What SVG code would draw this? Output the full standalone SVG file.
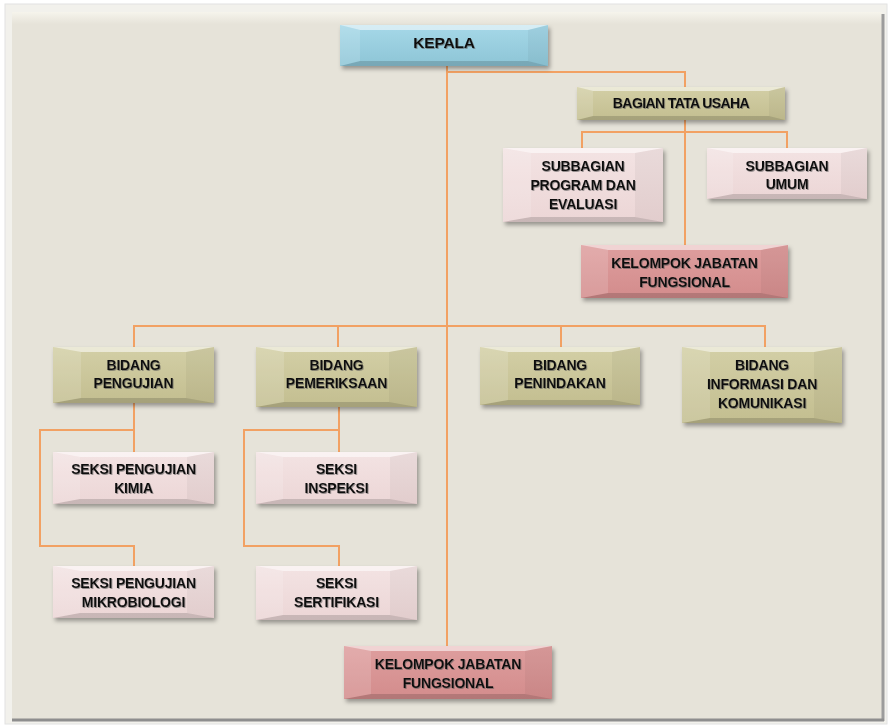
<svg xmlns="http://www.w3.org/2000/svg" width="890" height="725" viewBox="0 0 890 725">
<defs>
<filter id="sh" x="-10%" y="-20%" width="125%" height="150%"><feDropShadow dx="2" dy="3" stdDeviation="2" flood-color="#000" flood-opacity="0.35"/></filter>
<filter id="tsh" x="-5%" y="-20%" width="110%" height="150%"><feDropShadow dx="0.8" dy="1" stdDeviation="0.6" flood-color="#555" flood-opacity="0.6"/></filter>
<linearGradient id="panelTop" x1="0" y1="0" x2="0" y2="1"><stop offset="0" stop-color="#f6f4ec"/><stop offset="1" stop-color="#e6e3d9"/></linearGradient>
<linearGradient id="gBlue" x1="0" y1="0" x2="0" y2="1"><stop offset="0" stop-color="#a6d8e8"/><stop offset="1" stop-color="#8dc5d6"/></linearGradient>
<linearGradient id="gKhaki" x1="0" y1="0" x2="0" y2="1"><stop offset="0" stop-color="#d3cfa6"/><stop offset="1" stop-color="#c3be90"/></linearGradient>
<linearGradient id="gPink" x1="0" y1="0" x2="0" y2="1"><stop offset="0" stop-color="#f3e3e3"/><stop offset="1" stop-color="#ecd6d6"/></linearGradient>
<linearGradient id="gRed" x1="0" y1="0" x2="0" y2="1"><stop offset="0" stop-color="#de9e9e"/><stop offset="1" stop-color="#d38c8c"/></linearGradient>
</defs>
<style>
.blue{fill:url(#gBlue)}
.khaki{fill:url(#gKhaki)}
.pink{fill:url(#gPink)}
.red{fill:url(#gRed)}
.base{filter:url(#sh)}
.ft{fill:#ffffff;fill-opacity:0.55}
.fl{fill:#ffffff;fill-opacity:0.14}
.fr{fill:#000000;fill-opacity:0.04}
.fb{fill:#000000;fill-opacity:0.15}
text{font-family:"Liberation Sans",Arial,sans-serif;font-weight:bold;font-size:14px;fill:#111;text-anchor:middle;filter:url(#tsh);letter-spacing:-0.2px}
.con{fill:none;stroke:#f2a163;stroke-width:2}
</style>
<rect x="0" y="0" width="890" height="725" fill="#ffffff"/>
<rect x="5" y="4" width="882" height="720" fill="#f2f1ec" stroke="#e2e2e2"/>
<rect x="12" y="12" width="870" height="707" fill="#e6e3d9"/>
<rect x="12" y="12" width="870" height="12" fill="url(#panelTop)"/>
<line x1="883" y1="14" x2="883" y2="721" stroke="#9c9c9c" stroke-width="3"/>
<line x1="12" y1="720" x2="884" y2="720" stroke="#8e8e8e" stroke-width="3"/>

<g id="connectors">
<path class="con" d="M447,65 V646"/>
<path class="con" d="M447,72 H685 V87"/>
<path class="con" d="M685,119 V245"/>
<path class="con" d="M582,148 V132 H787 V148"/>
<path class="con" d="M134,347 V326 H765 V347"/>
<path class="con" d="M338,326 V347"/>
<path class="con" d="M561,326 V347"/>
<path class="con" d="M134,403 V452"/>
<path class="con" d="M134,430 H40 V546 H134 V566"/>
<path class="con" d="M339,407 V452"/>
<path class="con" d="M339,430 H244 V546 H339 V566"/>
</g>

<g id="kepala" transform="translate(340,25)">
<rect class="blue base" width="208" height="41"/>
<polygon class="ft" points="0,0 208,0 188,5 20,5"/>
<polygon class="fb" points="0,41 208,41 188,36 20,36"/>
<polygon class="fl" points="0,0 20,5 20,36 0,41"/>
<polygon class="fr" points="208,0 188,5 188,36 208,41"/>
<text x="104" y="23" style="font-size:15.5px">KEPALA</text>
</g>

<g id="bagian-tata-usaha" transform="translate(577,87)">
<rect class="khaki base" width="208" height="33"/>
<polygon class="ft" points="0,0 208,0 192,4 16,4"/>
<polygon class="fb" points="0,33 208,33 192,29 16,29"/>
<polygon class="fl" points="0,0 16,4 16,29 0,33"/>
<polygon class="fr" points="208,0 192,4 192,29 208,33"/>
<text x="104" y="21" style="letter-spacing:-0.6px">BAGIAN TATA USAHA</text>
</g>

<g id="subbagian-program" transform="translate(503,148)">
<rect class="pink base" width="160" height="74"/>
<polygon class="ft" points="0,0 160,0 132,5 28,5"/>
<polygon class="fb" points="0,74 160,74 132,69 28,69"/>
<polygon class="fl" points="0,0 28,5 28,69 0,74"/>
<polygon class="fr" points="160,0 132,5 132,69 160,74"/>
<text x="80" y="23">SUBBAGIAN</text>
<text x="80" y="42">PROGRAM DAN</text>
<text x="80" y="61">EVALUASI</text>
</g>

<g id="subbagian-umum" transform="translate(707,148)">
<rect class="pink base" width="160" height="51"/>
<polygon class="ft" points="0,0 160,0 134,5 26,5"/>
<polygon class="fb" points="0,51 160,51 134,46 26,46"/>
<polygon class="fl" points="0,0 26,5 26,46 0,51"/>
<polygon class="fr" points="160,0 134,5 134,46 160,51"/>
<text x="80" y="23">SUBBAGIAN</text>
<text x="80" y="41">UMUM</text>
</g>

<g id="kjf-atas" transform="translate(581,245)">
<rect class="red base" width="207" height="53"/>
<polygon class="ft" points="0,0 207,0 180,5 27,5"/>
<polygon class="fb" points="0,53 207,53 180,48 27,48"/>
<polygon class="fl" points="0,0 27,5 27,48 0,53"/>
<polygon class="fr" points="207,0 180,5 180,48 207,53"/>
<text x="103.5" y="23">KELOMPOK JABATAN</text>
<text x="103.5" y="42">FUNGSIONAL</text>
</g>

<g id="bidang-pengujian" transform="translate(53,347)">
<rect class="khaki base" width="161" height="56"/>
<polygon class="ft" points="0,0 161,0 133,5 28,5"/>
<polygon class="fb" points="0,56 161,56 133,51 28,51"/>
<polygon class="fl" points="0,0 28,5 28,51 0,56"/>
<polygon class="fr" points="161,0 133,5 133,51 161,56"/>
<text x="80.5" y="23">BIDANG</text>
<text x="80.5" y="41">PENGUJIAN</text>
</g>

<g id="bidang-pemeriksaan" transform="translate(256,347)">
<rect class="khaki base" width="161" height="60"/>
<polygon class="ft" points="0,0 161,0 133,5 28,5"/>
<polygon class="fb" points="0,60 161,60 133,55 28,55"/>
<polygon class="fl" points="0,0 28,5 28,55 0,60"/>
<polygon class="fr" points="161,0 133,5 133,55 161,60"/>
<text x="80.5" y="23">BIDANG</text>
<text x="80.5" y="41">PEMERIKSAAN</text>
</g>

<g id="bidang-penindakan" transform="translate(480,347)">
<rect class="khaki base" width="160" height="58"/>
<polygon class="ft" points="0,0 160,0 132,5 28,5"/>
<polygon class="fb" points="0,58 160,58 132,53 28,53"/>
<polygon class="fl" points="0,0 28,5 28,53 0,58"/>
<polygon class="fr" points="160,0 132,5 132,53 160,58"/>
<text x="80" y="23">BIDANG</text>
<text x="80" y="41">PENINDAKAN</text>
</g>

<g id="bidang-infokom" transform="translate(682,347)">
<rect class="khaki base" width="160" height="76"/>
<polygon class="ft" points="0,0 160,0 132,5 28,5"/>
<polygon class="fb" points="0,76 160,76 132,71 28,71"/>
<polygon class="fl" points="0,0 28,5 28,71 0,76"/>
<polygon class="fr" points="160,0 132,5 132,71 160,76"/>
<text x="80" y="23">BIDANG</text>
<text x="80" y="42">INFORMASI DAN</text>
<text x="80" y="61">KOMUNIKASI</text>
</g>

<g id="seksi-kimia" transform="translate(53,452)">
<rect class="pink base" width="161" height="52"/>
<polygon class="ft" points="0,0 161,0 134,5 27,5"/>
<polygon class="fb" points="0,52 161,52 134,47 27,47"/>
<polygon class="fl" points="0,0 27,5 27,47 0,52"/>
<polygon class="fr" points="161,0 134,5 134,47 161,52"/>
<text x="80.5" y="22">SEKSI PENGUJIAN</text>
<text x="80.5" y="41">KIMIA</text>
</g>

<g id="seksi-inspeksi" transform="translate(256,452)">
<rect class="pink base" width="161" height="52"/>
<polygon class="ft" points="0,0 161,0 134,5 27,5"/>
<polygon class="fb" points="0,52 161,52 134,47 27,47"/>
<polygon class="fl" points="0,0 27,5 27,47 0,52"/>
<polygon class="fr" points="161,0 134,5 134,47 161,52"/>
<text x="80.5" y="22">SEKSI</text>
<text x="80.5" y="41">INSPEKSI</text>
</g>

<g id="seksi-mikrobiologi" transform="translate(53,566)">
<rect class="pink base" width="161" height="52"/>
<polygon class="ft" points="0,0 161,0 134,5 27,5"/>
<polygon class="fb" points="0,52 161,52 134,47 27,47"/>
<polygon class="fl" points="0,0 27,5 27,47 0,52"/>
<polygon class="fr" points="161,0 134,5 134,47 161,52"/>
<text x="80.5" y="22">SEKSI PENGUJIAN</text>
<text x="80.5" y="41">MIKROBIOLOGI</text>
</g>

<g id="seksi-sertifikasi" transform="translate(256,566)">
<rect class="pink base" width="161" height="54"/>
<polygon class="ft" points="0,0 161,0 134,5 27,5"/>
<polygon class="fb" points="0,54 161,54 134,49 27,49"/>
<polygon class="fl" points="0,0 27,5 27,49 0,54"/>
<polygon class="fr" points="161,0 134,5 134,49 161,54"/>
<text x="80.5" y="22">SEKSI</text>
<text x="80.5" y="41">SERTIFIKASI</text>
</g>

<g id="kjf-bawah" transform="translate(344,646)">
<rect class="red base" width="208" height="53"/>
<polygon class="ft" points="0,0 208,0 181,5 27,5"/>
<polygon class="fb" points="0,53 208,53 181,48 27,48"/>
<polygon class="fl" points="0,0 27,5 27,48 0,53"/>
<polygon class="fr" points="208,0 181,5 181,48 208,53"/>
<text x="104" y="23">KELOMPOK JABATAN</text>
<text x="104" y="42">FUNGSIONAL</text>
</g>
</svg>
